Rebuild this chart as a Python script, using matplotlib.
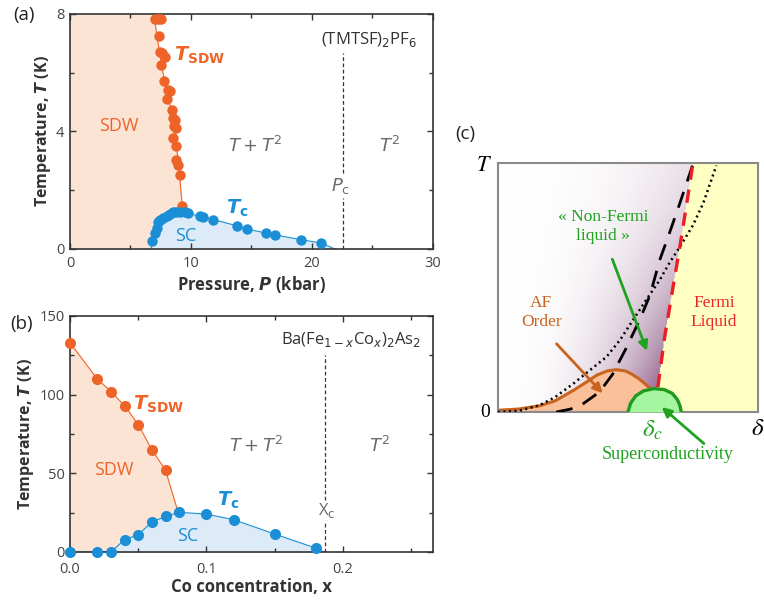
import matplotlib.pyplot as plt
import numpy as np
from matplotlib.ticker import MultipleLocator

# --- data ------------------------------------------------------------------

# (a) (TMTSF)2PF6, pressure in kbar, temperature in K
p_sdw = [7.0, 7.3, 7.5, 7.35, 7.4, 7.6, 7.85, 7.5, 7.8, 8.06, 8.26, 7.98, 8.4,
         8.48, 8.67, 8.59, 8.75, 8.53, 8.8, 8.8, 8.95, 9.08, 9.28]
t_sdw_a = [7.82, 7.82, 7.82, 7.25, 6.69, 6.66, 6.55, 6.27, 5.72, 5.42, 5.38,
           5.11, 4.74, 4.45, 4.40, 4.17, 4.11, 3.77, 3.49, 3.04, 2.87, 2.53, 1.45]
p_sdw_line = [6.95, 7.1, 7.4, 7.6, 8.0, 8.4, 8.6, 8.8, 9.0, 9.28, 9.4]
t_sdw_line = [8.0, 7.5, 6.7, 6.2, 5.3, 4.7, 4.1, 3.5, 2.8, 1.45, 1.26]

p_tc = [6.8, 7.02, 7.16, 7.29, 7.43, 7.7, 7.98, 8.26, 8.53, 8.8, 9.08, 9.5,
        9.77, 10.73, 11.0, 11.84, 13.82, 14.6, 16.24, 16.93, 19.07, 20.78]
t_tc_a = [0.26, 0.54, 0.71, 0.91, 1.0, 1.05, 1.13, 1.19, 1.25, 1.26, 1.26,
          1.26, 1.22, 1.11, 1.09, 1.0, 0.79, 0.68, 0.54, 0.48, 0.32, 0.20]
p_tc_ends = [6.7, 21.9]
p_c = 22.6

# (b) Ba(Fe1-xCox)2As2, Co concentration x, temperature in K
x_sdw = [0.0, 0.02, 0.03, 0.04, 0.05, 0.06, 0.07]
t_sdw_b = [133, 110, 102, 93, 81, 65, 52]
x_sdw_end, t_sdw_end = 0.079, 26

x_tc = [0.0, 0.02, 0.03, 0.04, 0.05, 0.06, 0.07, 0.08, 0.10, 0.12, 0.15, 0.18]
t_tc_b = [0, 0, 0, 7.8, 11, 19, 22.6, 25.2, 24.1, 20.5, 11.4, 2.5]
x_tc_end = 0.186
x_c = 0.187

# (c) schematic, axes fraction units
red_x = [0.615, 0.641, 0.673, 0.699, 0.725, 0.75]
red_y = [0.10, 0.30, 0.50, 0.66, 0.83, 1.0]

dash_x = [0.224, 0.28, 0.33, 0.39, 0.44, 0.49, 0.545, 0.585, 0.622, 0.66, 0.70, 0.75]
dash_y = [0.0, 0.012, 0.035, 0.08, 0.15, 0.25, 0.37, 0.47, 0.61, 0.72, 0.84, 0.995]

dot_x = [0.0, 0.08, 0.16, 0.22, 0.29, 0.35, 0.417, 0.47, 0.519, 0.57, 0.622,
         0.66, 0.70, 0.75, 0.79, 0.84]
dot_y = [0.0, 0.005, 0.027, 0.06, 0.114, 0.165, 0.221, 0.29, 0.369, 0.45, 0.53,
         0.60, 0.664, 0.75, 0.84, 0.99]

af_x = [0.0, 0.08, 0.16, 0.22, 0.29, 0.34, 0.38, 0.42, 0.455, 0.49, 0.515,
        0.54, 0.56, 0.58]
af_y = [0.007, 0.012, 0.025, 0.045, 0.087, 0.12, 0.148, 0.165, 0.170, 0.165,
        0.152, 0.135, 0.118, 0.10]

sc_x = [0.50, 0.51, 0.53, 0.56, 0.60, 0.64, 0.67, 0.69, 0.70, 0.705]
sc_y = [0.0, 0.035, 0.065, 0.085, 0.094, 0.09, 0.075, 0.05, 0.025, 0.0]

# --- styles -----------------------------------------------------------------
ORANGE = "#ee6428"
BLUE = "#1a8fd6"
ORANGE_FILL = "#fce4d4"
BLUE_FILL = "#dcebf7"
GRAY_TXT = "#6a6a6a"

plt.rcParams["font.family"] = ["Open Sans", "DejaVu Sans"]
plt.rcParams["mathtext.fontset"] = "dejavusans"

fig = plt.figure(figsize=(7.64, 6.02), dpi=100)


def style_axes(ax, xpad=5):
    for s in ax.spines.values():
        s.set_color("#333333")
        s.set_linewidth(1.2)
    ax.tick_params(which="both", direction="in", top=True, right=True,
                   colors="#333333", labelcolor="#444444", labelsize=10.5)
    ax.tick_params(which="major", length=4, width=1)
    ax.tick_params(which="minor", length=3, width=1)
    ax.tick_params(axis="x", pad=xpad)
    ax.tick_params(axis="y", pad=4)


# --- (a) ----------------------------------------------------------------------
ax = fig.add_axes([0.0916, 0.5864, 0.4751, 0.3904])
ax.set_xlim(0, 30)
ax.set_ylim(0, 8)
ax.fill_betweenx(t_sdw_line + [0.0], 0, p_sdw_line + [p_sdw_line[-1]],
                 color=ORANGE_FILL, lw=0, zorder=0)
tc_line_x = [p_tc_ends[0]] + p_tc + [p_tc_ends[1]]
tc_line_y = [0.0] + t_tc_a + [0.0]
ax.fill_between(tc_line_x, 0, tc_line_y, color=BLUE_FILL, lw=0, zorder=1)
ax.plot(p_sdw_line, t_sdw_line, color=ORANGE, lw=0.8, zorder=2)
ax.plot(tc_line_x, tc_line_y, color=BLUE, lw=0.8, zorder=2)
ax.plot(p_sdw, t_sdw_a, "o", color=ORANGE, ms=7.5, mec="none", zorder=3)
ax.plot(p_tc, t_tc_a, "o", color=BLUE, ms=7.5, mec="none", zorder=3)
ax.plot([p_c, p_c], [0, 1.75], color="#333333", lw=0.9, ls=(0, (3, 2)))
ax.plot([p_c, p_c], [2.6, 6.66], color="#333333", lw=0.9, ls=(0, (3, 2)))

ax.set_xticks([0, 10, 20, 30])
ax.set_yticks([0, 4, 8])
ax.xaxis.set_minor_locator(MultipleLocator(5))
ax.yaxis.set_minor_locator(MultipleLocator(2))
style_axes(ax)
ax.set_xlabel("Pressure, $\\boldsymbol{P}$ (kbar)", fontsize=12,
              fontweight="bold", color="#333333", labelpad=2)
ax.set_ylabel("Temperature, $\\boldsymbol{T}$ (K)", fontsize=11.5,
              fontweight="bold", color="#333333", labelpad=2)

ax.text(24.7, 7.14, "(TMTSF)$_2$PF$_6$", fontsize=12, color="#333333",
        ha="center", va="center")
ax.text(4.0, 4.17, "SDW", fontsize=13, color=ORANGE, ha="center", va="center")
ax.text(8.6, 6.6, "$\\boldsymbol{T}_{\\mathbf{SDW}}$", fontsize=14, color=ORANGE,
        ha="left", va="center")
ax.text(15.3, 3.5, "$T + T^2$", fontsize=13, color=GRAY_TXT, ha="center", va="center")
ax.text(26.4, 3.5, "$T^2$", fontsize=13, color=GRAY_TXT, ha="center", va="center")
ax.text(22.4, 2.15, "$P_{\\rm c}$", fontsize=13, color=GRAY_TXT, ha="center", va="center")
ax.text(13.8, 1.38, "$\\boldsymbol{T}_{\\mathbf{c}}$", fontsize=14, color=BLUE,
        ha="center", va="center")
ax.text(9.6, 0.45, "SC", fontsize=13, color=BLUE, ha="center", va="center")
fig.text(0.017, 0.975, "(a)", fontsize=13.5, ha="left", va="center", color="#222222")

# --- (b) ----------------------------------------------------------------------
ax = fig.add_axes([0.0916, 0.0831, 0.4751, 0.392])
ax.set_xlim(0, 0.266)
ax.set_ylim(0, 150)
sdw_line_x = x_sdw + [x_sdw_end]
sdw_line_y = t_sdw_b + [t_sdw_end]
ax.fill_between(sdw_line_x + [x_sdw_end], 0, sdw_line_y + [0],
                color=ORANGE_FILL, lw=0, zorder=0)
tcb_x = x_tc + [x_tc_end]
tcb_y = t_tc_b + [0]
ax.fill_between(tcb_x, 0, tcb_y, color=BLUE_FILL, lw=0, zorder=1)
ax.plot(sdw_line_x, sdw_line_y, color=ORANGE, lw=0.8, zorder=2)
ax.plot(tcb_x, tcb_y, color=BLUE, lw=0.8, zorder=2)
ax.plot(x_sdw, t_sdw_b, "o", color=ORANGE, ms=8, mec="none", zorder=3, clip_on=False)
ax.plot(x_tc, t_tc_b, "o", color=BLUE, ms=8, mec="none", zorder=3, clip_on=False)
ax.plot([x_c, x_c], [0, 20], color="#333333", lw=0.9, ls=(0, (3, 2)))
ax.plot([x_c, x_c], [33, 125], color="#333333", lw=0.9, ls=(0, (3, 2)))

ax.set_xticks([0.0, 0.1, 0.2])
ax.set_xticklabels(["0.0", "0.1", "0.2"])
ax.set_yticks([0, 50, 100, 150])
ax.xaxis.set_minor_locator(MultipleLocator(0.05))
ax.yaxis.set_minor_locator(MultipleLocator(25))
style_axes(ax, xpad=7)
ax.set_xlabel("Co concentration, x", fontsize=12, fontweight="bold",
              color="#333333", labelpad=1)
ax.set_ylabel("Temperature, $\\boldsymbol{T}$ (K)", fontsize=11.5,
              fontweight="bold", color="#333333", labelpad=2)

ax.text(0.2057, 134.8, "Ba(Fe$_{1-x}$Co$_x$)$_2$As$_2$", fontsize=12,
        color="#333333", ha="center", va="center")
ax.text(0.0324, 52.3, "SDW", fontsize=13, color=ORANGE, ha="center", va="center")
ax.text(0.046, 94, "$\\boldsymbol{T}_{\\mathbf{SDW}}$", fontsize=14, color=ORANGE,
        ha="left", va="center")
ax.text(0.136, 67.5, "$T + T^2$", fontsize=13, color=GRAY_TXT, ha="center", va="center")
ax.text(0.227, 67.5, "$T^2$", fontsize=13, color=GRAY_TXT, ha="center", va="center")
ax.text(0.188, 26.5, "X$_{\\rm c}$", fontsize=12, color=GRAY_TXT, ha="center", va="center")
ax.text(0.116, 33, "$\\boldsymbol{T}_{\\mathbf{c}}$", fontsize=14, color=BLUE,
        ha="center", va="center")
ax.text(0.086, 10.4, "SC", fontsize=13, color=BLUE, ha="center", va="center")
fig.text(0.014, 0.462, "(b)", fontsize=13.5, ha="left", va="center", color="#222222")

# --- (c) ----------------------------------------------------------------------
ax = fig.add_axes([0.6518, 0.3156, 0.3403, 0.4136])
ax.set_xlim(0, 1)
ax.set_ylim(0, 1)

# purple-to-white background, yellow right of the red line
gx, gy = np.meshgrid(np.linspace(0, 1, 300), np.linspace(0, 1, 300))
xr = np.interp(gy, [0.0] + red_y, [red_x[0]] + red_x)
rel = np.clip(gx / xr, 0, 1)
k = rel ** 2.5 * (0.2 + 0.8 * (1 - gy) ** 1.6)
white = np.array([1.0, 1.0, 1.0])
purple = np.array([0.56, 0.36, 0.53])
img = white + (purple - white) * k[..., None]
yellow = np.array([1.0, 1.0, 0.77])
img[gx > xr] = yellow
ax.imshow(img, extent=[0, 1, 0, 1], origin="lower", aspect="auto", zorder=0)

ax.fill_between(af_x + [0.6], 0, af_y + [0.0], color="#f9c09a", lw=0, zorder=1)
ax.plot(af_x, af_y, color="#c8641e", lw=2.2, zorder=2)
ax.plot(dot_x, dot_y, color="black", lw=1.8, ls=(0, (0.8, 1.4)), zorder=3)
ax.plot(dash_x, dash_y, color="black", lw=2.0, ls=(0, (6, 4)), zorder=3)
ax.plot(red_x, red_y, color="#ee1c24", lw=2.4, ls=(0, (4, 3)), zorder=4)
ax.fill_between(sc_x, 0, sc_y, color="#a6f5a0", lw=0, zorder=5)
ax.plot(sc_x, sc_y, color="#1f9a1f", lw=2.4, zorder=6)

ax.set_xticks([])
ax.set_yticks([])
for s in ax.spines.values():
    s.set_color("#8a8a8a")
    s.set_linewidth(1.5)

GREEN = "#1fa31f"
serif = ["Liberation Serif", "DejaVu Serif"]
ax.text(0.404, 0.745, "« Non-Fermi\nliquid »", family=serif, fontsize=12.5,
        color=GREEN, ha="center", va="center", linespacing=1.25, zorder=7)
ax.annotate("", xy=(0.577, 0.235), xytext=(0.436, 0.624),
            arrowprops=dict(arrowstyle="-|>", color=GREEN, lw=2, mutation_scale=14),
            zorder=7)
ax.text(0.167, 0.40, "AF\nOrder", family=serif, fontsize=12.5, color="#c8641e",
        ha="center", va="center", linespacing=1.25)
ax.annotate("", xy=(0.41, 0.067), xytext=(0.218, 0.282),
            arrowprops=dict(arrowstyle="-|>", color="#c8641e", lw=2, mutation_scale=14),
            zorder=7)
ax.text(0.83, 0.40, "Fermi\nLiquid", family=serif, fontsize=12.5, color="#e8262a",
        ha="center", va="center", linespacing=1.25)
ax.annotate("", xy=(0.622, 0.027), xytext=(0.80, -0.134),
            arrowprops=dict(arrowstyle="-|>", color=GREEN, lw=2, mutation_scale=14),
            annotation_clip=False, zorder=7)
ax.text(-0.055, 0.985, "$T$", family=serif, fontsize=16, ha="center", va="center",
        math_fontfamily="stix")
ax.text(-0.05, 0.0, "0", family=serif, fontsize=14, ha="center", va="center")
ax.text(1.0, -0.065, "$\\delta$", fontsize=18, ha="center", va="center",
        math_fontfamily="stix")
ax.text(0.595, -0.075, "$\\delta_c$", fontsize=18, color=GREEN, ha="center",
        va="center", math_fontfamily="stix")
ax.text(0.654, -0.17, "Superconductivity", family=serif, fontsize=13,
        color=GREEN, ha="center", va="center")
fig.text(0.596, 0.777, "(c)", fontsize=13.5, ha="left", va="center", color="#222222")

fig.savefig("out.png", dpi=100)
